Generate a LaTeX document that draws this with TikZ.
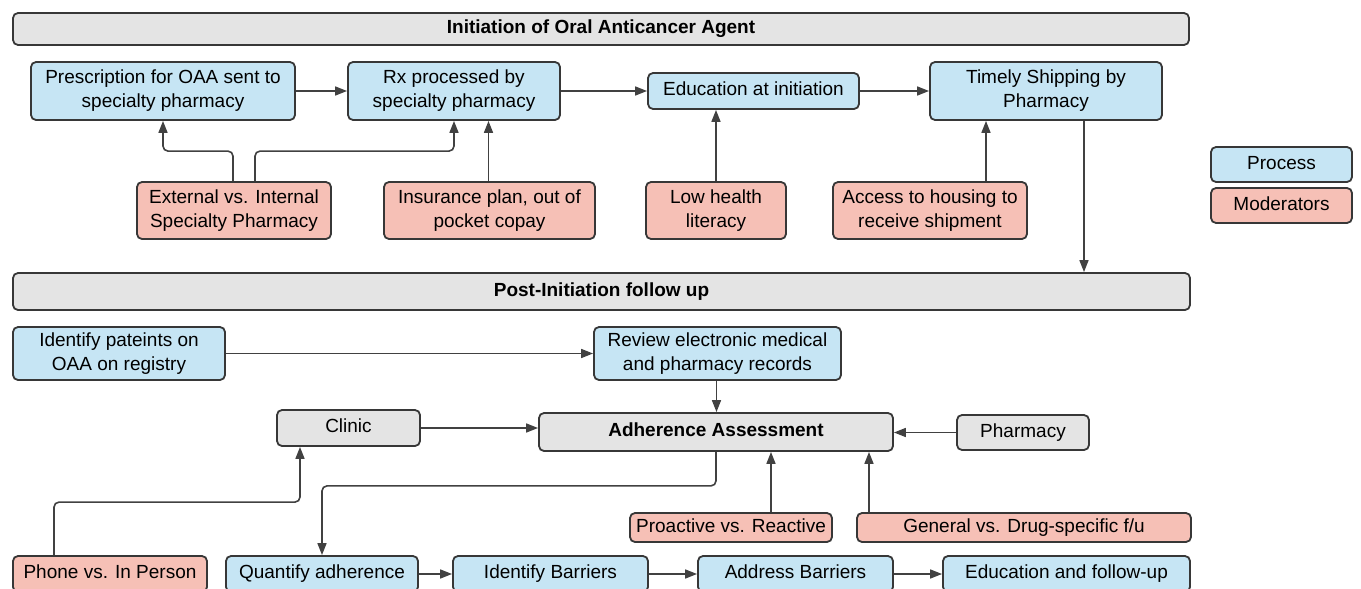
\documentclass[tikz,border=0pt]{standalone}
\usepackage{fontspec}
\setmainfont{Liberation Sans}
\usetikzlibrary{arrows.meta,calc}
\definecolor{procfill}{RGB}{198,229,244}
\definecolor{modfill}{RGB}{246,192,182}
\definecolor{grayfill}{RGB}{228,228,228}
\definecolor{bordercol}{RGB}{55,55,55}
\definecolor{conncol}{RGB}{65,65,65}
\begin{document}
\begin{tikzpicture}[x=1pt,y=-1pt,
  box/.style={draw=bordercol, line width=1.8pt, rounded corners=5pt, inner sep=0pt,
    align=center, font=\fontsize{19}{24}\selectfont},
  sz/.style 2 args={minimum width=#1, minimum height=#2},
  one/.style={text height=13.5pt, text depth=4pt},
  proc/.style={box, fill=procfill},
  moder/.style={box, fill=modfill},
  grey/.style={box, fill=grayfill},
  hdr/.style={box, fill=grayfill, font=\fontsize{19}{24}\selectfont\bfseries},
  conn/.style={draw=conncol, line width=1.6pt, rounded corners=5pt,
    -{Triangle[length=12pt,width=9pt]}}
]
\useasboundingbox (0,0) rectangle (1361,589);
\fill[white] (0,0) rectangle (1361,589);
\clip (0,0) rectangle (1361,589);

% headers
\node[hdr, one, sz={1176pt}{32pt}] (h1) at (601,29) {Initiation of Oral Anticancer Agent};
\node[hdr, one, sz={1177pt}{37pt}] (h2) at (601.5,291.5) {Post-Initiation follow up};

% initiation row
\node[proc, sz={264pt}{58pt}] (presc) at (163,91) {Prescription for OAA sent to\\specialty pharmacy};
\node[proc, sz={212pt}{58pt}] (rx) at (454,91) {Rx processed by\\specialty pharmacy};
\node[proc, one, sz={211pt}{36pt}] (edu) at (753.5,91) {Education at initiation};
\node[proc, sz={232pt}{58pt}] (timely) at (1046,91) {Timely Shipping by\\Pharmacy};

% moderators row
\node[moder, sz={194pt}{57pt}] (ext) at (234,210.5) {External vs. Internal\\Specialty Pharmacy};
\node[moder, sz={211pt}{57pt}] (ins) at (489.5,210.5) {Insurance plan, out of\\pocket copay};
\node[moder, sz={140pt}{57pt}] (low) at (716,210.5) {Low health\\literacy};
\node[moder, sz={194pt}{57pt}] (acc) at (930,210.5) {Access to housing to\\receive shipment};

% legend
\node[proc, one, sz={141pt}{35pt}] (leg1) at (1281.5,164.5) {Process};
\node[moder, one, sz={141pt}{35pt}] (leg2) at (1281.5,205.5) {Moderators};

% post-initiation
\node[proc, sz={212pt}{53pt}] (ident) at (119,353.5) {Identify pateints on\\OAA on registry};
\node[proc, sz={247pt}{53pt}] (review) at (717.5,353.5) {Review electronic medical\\and pharmacy records};
\node[grey, one, sz={143pt}{36pt}] (clinic) at (348.5,428) {Clinic};
\node[grey, one, sz={354pt}{38pt}, font=\fontsize{19}{24}\selectfont\bfseries] (adh) at (716,432) {Adherence Assessment};
\node[grey, one, sz={132pt}{35pt}] (pharm) at (1023,432.5) {Pharmacy};
\node[moder, one, sz={202pt}{29pt}] (pro) at (731,527.5) {Proactive vs. Reactive};
\node[moder, one, sz={334pt}{29pt}] (gen) at (1024,527.5) {General vs. Drug-specific f/u};

% bottom row
\node[moder, one, sz={194pt}{36pt}] (phone) at (110,574) {Phone vs. In Person};
\node[proc, one, sz={192pt}{36pt}] (quant) at (322,574) {Quantify adherence};
\node[proc, one, sz={195pt}{36pt}] (idb) at (550.5,574) {Identify Barriers};
\node[proc, one, sz={195pt}{36pt}] (addr) at (795.5,574) {Address Barriers};
\node[proc, one, sz={247pt}{36pt}] (eduf) at (1066.5,574) {Education and follow-up};

% connectors: initiation
\draw[conn] (presc.east) -- (rx.west);
\draw[conn] (rx.east) -- (edu.west);
\draw[conn] (edu.east) -- (timely.west);
\draw[conn] ([xshift=-1pt]ext.north) -- ++(0,-30) -| (presc.south);
\draw[conn] ([xshift=21pt]ext.north) -- ++(0,-30) -| (rx.south);
\draw[conn] ([xshift=-1pt]ins.north) -- ([xshift=-1pt]ins.north |- rx.south);
\draw[conn] (low.north) -- (low.north |- edu.south);
\draw[conn] ([xshift=56pt]acc.north) -- ([xshift=56pt]acc.north |- timely.south);
\draw[conn] ([xshift=38pt]timely.south) -- ([xshift=38pt]timely.south |- h2.north);

% connectors: post-initiation
\draw[conn] (ident.east) -- (review.west);
\draw[conn] ([xshift=-1pt]review.south) -- ([xshift=-1pt]review.south |- adh.north);
\draw[conn] (clinic.east) -- (clinic.east -| adh.west);
\draw[conn] (pharm.west) -- (pharm.west -| adh.east);
\draw[conn] (adh.south) -- ++(0,34) -| (quant.north);
\draw[conn] ([xshift=40pt]pro.north) -- ([xshift=40pt]pro.north |- adh.south);
\draw[conn] ([xshift=-155pt]gen.north) -- ([xshift=-155pt]gen.north |- adh.south);
\draw[conn] ([xshift=-56pt]phone.north) -- ++(0,-53) -| ([xshift=-48.5pt]clinic.south);
\draw[conn] (quant.east) -- (idb.west);
\draw[conn] (idb.east) -- (addr.west);
\draw[conn] (addr.east) -- (eduf.west);
\end{tikzpicture}
\end{document}
